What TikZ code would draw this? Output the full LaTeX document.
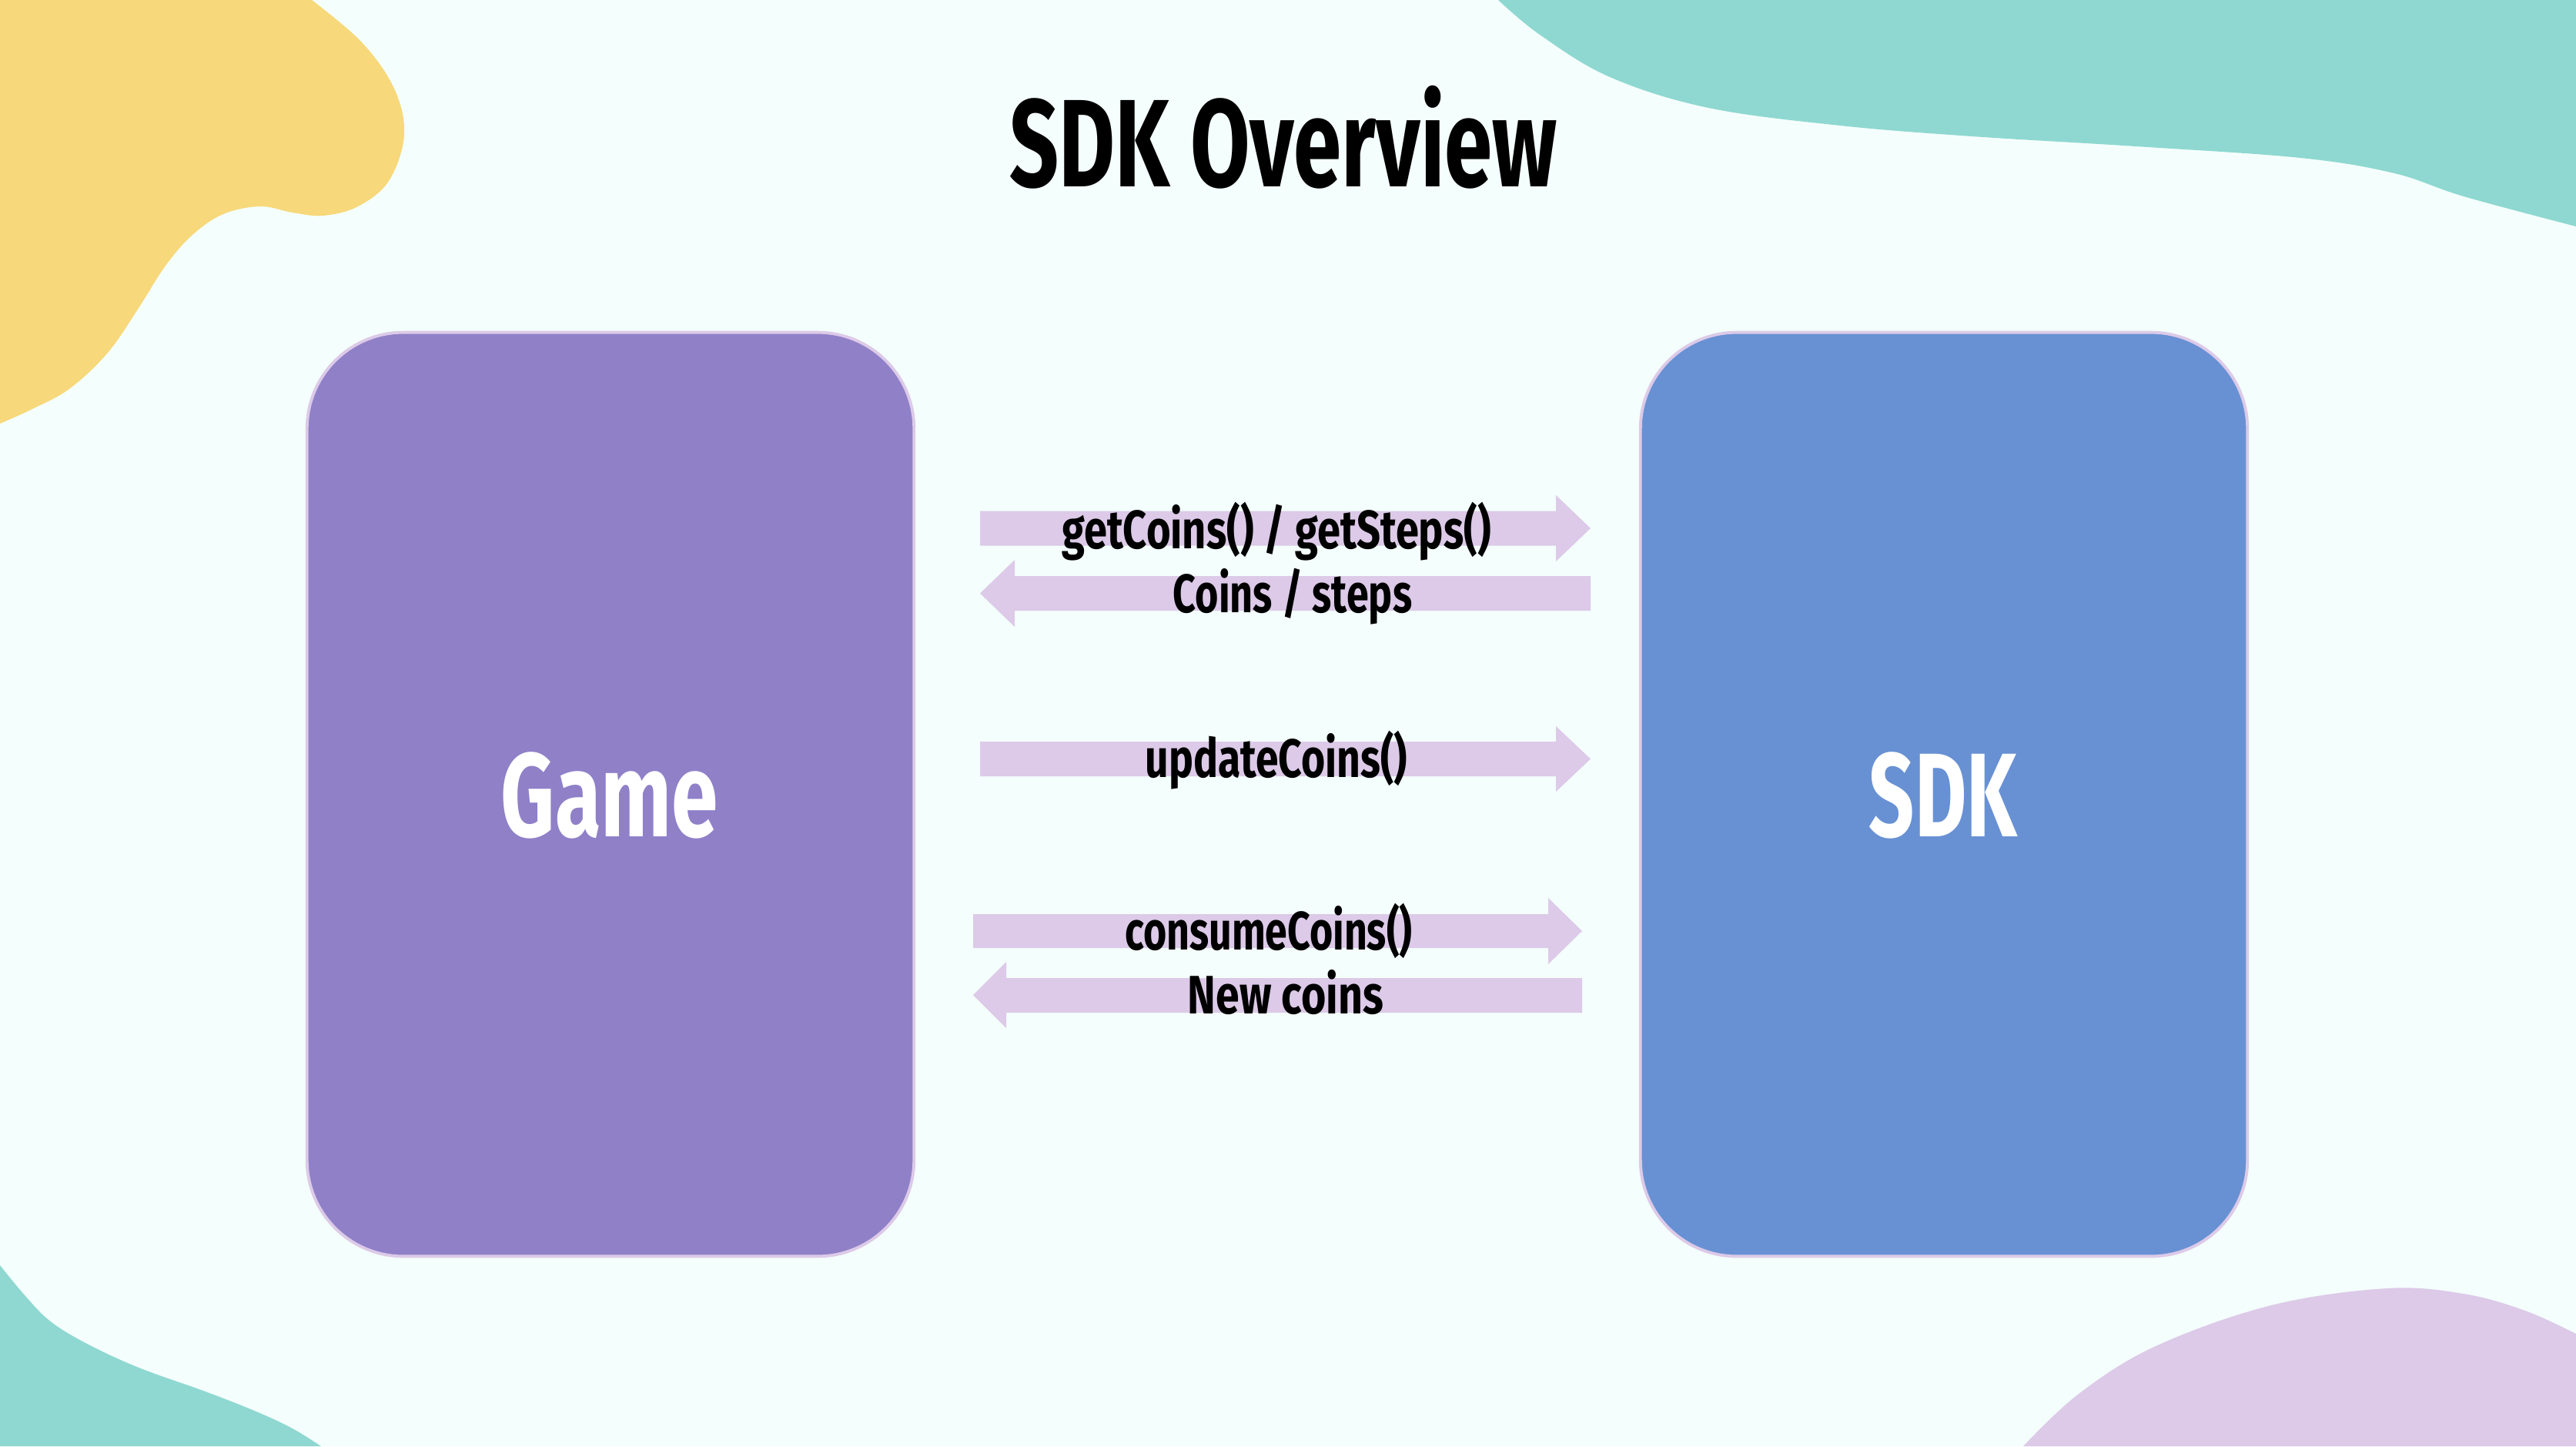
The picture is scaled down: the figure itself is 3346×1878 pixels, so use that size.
\documentclass[tikz,border=0pt]{standalone}
\usepackage{fontspec}
\setmainfont{Fira Sans}
\usepackage{graphicx}
\definecolor{bgc}{HTML}{F4FEFC}
\definecolor{yellowc}{HTML}{F7D87A}
\definecolor{tealc}{HTML}{8ED8D1}
\definecolor{lavc}{HTML}{DCCAE8}
\definecolor{gamec}{HTML}{8F80C8}
\definecolor{sdkc}{HTML}{6891D4}
\tikzset{
  lbl/.style={anchor=base, inner sep=0pt, text=black, font=\fontsize{20}{24}\selectfont\bfseries},
  bigtxt/.style={anchor=base, inner sep=0pt, text=white, font=\fontsize{44}{50}\selectfont\bfseries},
  titletxt/.style={anchor=base, inner sep=0pt, text=black, font=\fontsize{46}{52}\selectfont\bfseries},
  panel/.style={draw=lavc, line width=1.1pt, rounded corners=1.25cm, minimum width=7.88cm, minimum height=11.99cm, inner sep=0pt},
  band/.style={fill=lavc},
}
\begin{document}
\begin{tikzpicture}[x=0.01cm,y=-0.01cm]
\useasboundingbox (0,0) rectangle (3346,1878);
\fill[bgc] (0,0) rectangle (3346,1878);
% yellow blob top-left
\fill[yellowc] (0,0) -- plot[smooth, tension=0.6] coordinates {(405,0) (470,55) (512,115) (525,175) (505,235) (465,268) (420,280) (380,276) (338,268) (290,278) (250,305) (215,345) (180,400) (140,458) (90,505) (40,532) (0,550)} -- cycle;
% teal blob top-right
\fill[tealc] (3346,0) -- plot[smooth, tension=0.6] coordinates {(1946,0) (2000,45) (2091,100) (2219,140) (2390,163) (2561,177) (2774,190) (2988,205) (3110,225) (3200,255) (3346,294)} -- cycle;
% teal blob bottom-left
\fill[tealc] (0,1878) -- plot[smooth, tension=0.6] coordinates {(0,1643) (33,1683) (67,1717) (117,1747) (183,1777) (267,1807) (333,1833) (380,1855) (417,1878)} -- cycle;
% lavender blob bottom-right
\fill[lavc] (3346,1878) -- plot[smooth, tension=0.6] coordinates {(2628,1878) (2700,1810) (2800,1748) (2950,1695) (3100,1673) (3200,1680) (3280,1702) (3346,1732)} -- cycle;
% panels
\node[panel, fill=gamec] (game) at (793,1031.5) {};
\node[panel, fill=sdkc] (sdk) at (2525,1031.5) {};
% block arrows
\fill[band] (1273,663.5) -- (2021,663.5) -- (2021,643) -- (2066,686) -- (2021,729) -- (2021,708.5) -- (1273,708.5) -- cycle;
\fill[band] (2066,748) -- (1318,748) -- (1318,727) -- (1273,770.5) -- (1318,814) -- (1318,793) -- (2066,793) -- cycle;
\fill[band] (1273,963) -- (2021,963) -- (2021,943) -- (2066,985.5) -- (2021,1028) -- (2021,1008) -- (1273,1008) -- cycle;
\fill[band] (1264,1187) -- (2011,1187) -- (2011,1166) -- (2055,1209) -- (2011,1252) -- (2011,1231) -- (1264,1231) -- cycle;
\fill[band] (2055,1270) -- (1307,1270) -- (1307,1249) -- (1264,1292) -- (1307,1335) -- (1307,1315) -- (2055,1315) -- cycle;
% texts
\node[titletxt] (title) at (1667,242) {\resizebox{7.11cm}{\height}{SDK Overview}};
\node[bigtxt] (gametxt) at (792,1086) {\resizebox{2.82cm}{\height}{Game}};
\node[bigtxt] (sdktxt) at (2524,1086) {\resizebox{1.92cm}{\height}{SDK}};
\node[lbl] (l1) at (1658,712) {\resizebox{5.57cm}{\height}{getCoins() / getSteps()}};
\node[lbl] (l2) at (1679,795) {\resizebox{3.10cm}{\height}{Coins / steps}};
\node[lbl] (l3) at (1658,1009) {\resizebox{3.40cm}{\height}{updateCoins()}};
\node[lbl] (l4) at (1648,1233) {\resizebox{3.73cm}{\height}{consumeCoins()}};
\node[lbl] (l5) at (1670,1316) {\resizebox{2.54cm}{\height}{New coins}};
\end{tikzpicture}
\end{document}
